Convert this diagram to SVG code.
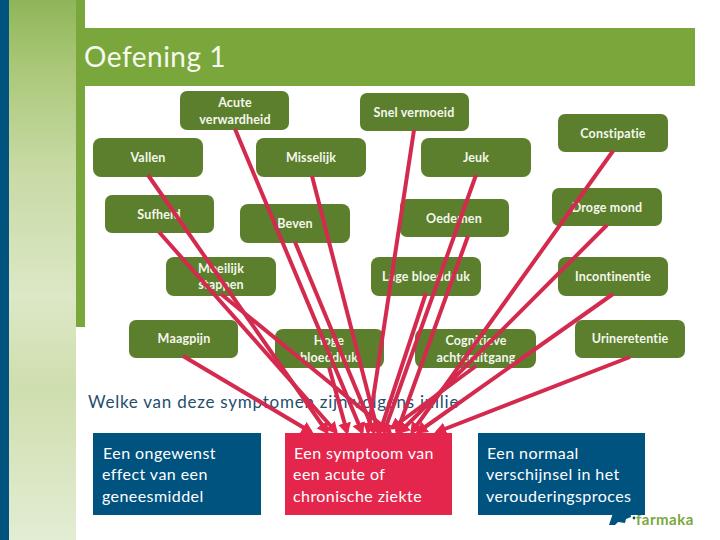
<svg xmlns="http://www.w3.org/2000/svg" width="720" height="540" viewBox="0 0 720 540">
<style>
.n{fill:#5c7f2e}
.t{font-family:Lato,"Liberation Sans",sans-serif;font-size:12.5px;font-weight:700;fill:#f4f7ec;text-anchor:middle;letter-spacing:.17px}
.b{font-family:Lato,"Liberation Sans",sans-serif;font-size:16px;fill:#fff;letter-spacing:.43px}
.c line{stroke:#d32a4e;stroke-width:4;marker-end:url(#a)}
</style>
<defs>
<marker id="a" markerUnits="userSpaceOnUse" markerWidth="14" markerHeight="14" refX="9" refY="6.5" orient="auto"><path d="M0 0L12 6.500L0 13Z" fill="#e5264c"/></marker>
<linearGradient id="g" x1="0" y1="0" x2="0" y2="1"><stop offset="0" stop-color="#8fb558"/><stop offset=".12" stop-color="#a9c777"/><stop offset=".3" stop-color="#c6d9a2"/><stop offset=".55" stop-color="#dce8c6"/><stop offset=".72" stop-color="#cfdeae"/><stop offset="1" stop-color="#e3edd3"/></linearGradient>
</defs>
<rect width="720" height="540" fill="#fff"/>
<g id="background">
<rect x="0" y="0" width="9" height="540" fill="#00527f"/>
<rect x="9" y="0" width="67" height="540" fill="url(#g)"/>
<rect x="76" y="0" width="9" height="327" fill="#7aa73b"/>
<rect x="76" y="28" width="619" height="58" fill="#7aa73b"/>
<text x="84" y="67" font-family="Lato,'Liberation Sans',sans-serif" font-size="28px" letter-spacing=".5" fill="#f6f9ef">Oefening 1</text>
</g>
<g id="farmaka-logo">
<path d="M609 525L614 510L630 510L631 517L626 519L625 523L618 522L615 525Z" fill="#00527f"/>
<circle cx="634" cy="518" r="1.4" fill="#00527f"/>
<text x="636" y="525" font-family="Lato,'Liberation Sans',sans-serif" font-size="15px" font-weight="700" letter-spacing=".5" fill="#7aa73b">farmaka</text>
</g>
<g id="node-acute"><rect class="n" x="180" y="91" width="109" height="39" rx="7"/><text class="t" x="235" y="107">Acute</text><text class="t" x="235" y="124">verwardheid</text></g>
<g id="node-snel"><rect class="n" x="360" y="93" width="109" height="38" rx="7"/><text class="t" x="414" y="117">Snel vermoeid</text></g>
<g id="node-constipatie"><rect class="n" x="558" y="114" width="110" height="38" rx="7"/><text class="t" x="613" y="138">Constipatie</text></g>
<g id="node-vallen"><rect class="n" x="93" y="138" width="110" height="39" rx="8"/><text class="t" x="148" y="162">Vallen</text></g>
<g id="node-misselijk"><rect class="n" x="256" y="138" width="110" height="39" rx="8"/><text class="t" x="311" y="162">Misselijk</text></g>
<g id="node-jeuk"><rect class="n" x="421" y="138" width="110" height="39" rx="8"/><text class="t" x="476" y="162">Jeuk</text></g>
<g id="node-sufheid"><rect class="n" x="105" y="195" width="109" height="38" rx="7"/><text class="t" x="159" y="219">Sufheid</text></g>
<g id="node-beven"><rect class="n" x="240" y="204" width="110" height="39" rx="8"/><text class="t" x="295" y="228">Beven</text></g>
<g id="node-oedemen"><rect class="n" x="400" y="199" width="109" height="38" rx="7"/><text class="t" x="454" y="223">Oedemen</text></g>
<g id="node-droge"><rect class="n" x="552" y="188" width="110" height="38" rx="7"/><text class="t" x="607" y="212">Droge mond</text></g>
<g id="node-moeilijk"><rect class="n" x="166" y="257" width="110" height="39" rx="8"/><text class="t" x="221" y="273">Moeilijk</text><text class="t" x="221" y="289">stappen</text></g>
<g id="node-lage"><rect class="n" x="371" y="257" width="110" height="39" rx="8"/><text class="t" x="426" y="281">Lage bloeddruk</text></g>
<g id="node-incontinentie"><rect class="n" x="558" y="257" width="110" height="39" rx="8"/><text class="t" x="613" y="281">Incontinentie</text></g>
<g id="node-maagpijn"><rect class="n" x="129" y="320" width="109" height="38" rx="7"/><text class="t" x="184" y="343">Maagpijn</text></g>
<g id="node-hoge"><rect class="n" x="275" y="329" width="109" height="39" rx="8"/><text class="t" x="329" y="345">Hoge</text><text class="t" x="329" y="362">bloeddruk</text></g>
<g id="node-cognitieve"><rect class="n" x="415" y="329" width="121" height="39" rx="8"/><text class="t" x="476" y="345">Cognitieve</text><text class="t" x="476" y="362">achteruitgang</text></g>
<g id="node-urine"><rect class="n" x="575" y="320" width="110" height="38" rx="7"/><text class="t" x="630" y="343">Urineretentie</text></g>
<text id="question" x="88" y="408" font-family="Lato,'Liberation Sans',sans-serif" font-size="17px" letter-spacing=".76" fill="#1f4e6e">Welke van deze symptomen zijn volgens jullie</text>
<g id="box-geneesmiddel"><rect x="93" y="433" width="168" height="82" fill="#00527f"/><text class="b" x="103" y="459">Een ongewenst</text><text class="b" x="102" y="480">effect van een</text><text class="b" x="102" y="502">geneesmiddel</text></g>
<g id="box-ziekte"><rect x="285" y="433" width="167" height="82" fill="#e5264c"/><text class="b" x="294" y="459">Een symptoom van</text><text class="b" x="293" y="480">een acute of</text><text class="b" x="293" y="502">chronische ziekte</text></g>
<g id="box-normaal"><rect x="478" y="433" width="167" height="82" fill="#00527f"/><text class="b" x="487" y="459">Een normaal</text><text class="b" x="486" y="480">verschijnsel in het</text><text class="b" x="486" y="502">verouderingsproces</text></g>
<g id="connectors" class="c">
<line x1="183" y1="356" x2="311" y2="432"/>
<line x1="148" y1="175" x2="327" y2="432"/>
<line x1="159" y1="232" x2="336" y2="432"/>
<line x1="221" y1="294" x2="390" y2="432"/>
<line x1="235" y1="129" x2="362" y2="432"/>
<line x1="295" y1="242" x2="374" y2="432"/>
<line x1="312" y1="176" x2="378" y2="432"/>
<line x1="329" y1="367" x2="347" y2="432"/>
<line x1="414" y1="130" x2="368" y2="432"/>
<line x1="476" y1="175" x2="384" y2="432"/>
<line x1="468" y1="236" x2="397" y2="432"/>
<line x1="426" y1="293" x2="380" y2="432"/>
<line x1="476" y1="366" x2="392" y2="428"/>
<line x1="613" y1="151" x2="412" y2="432"/>
<line x1="607" y1="225" x2="400" y2="432"/>
<line x1="613" y1="294" x2="418" y2="432"/>
<line x1="630" y1="357" x2="437" y2="432"/>
</g>
</svg>
